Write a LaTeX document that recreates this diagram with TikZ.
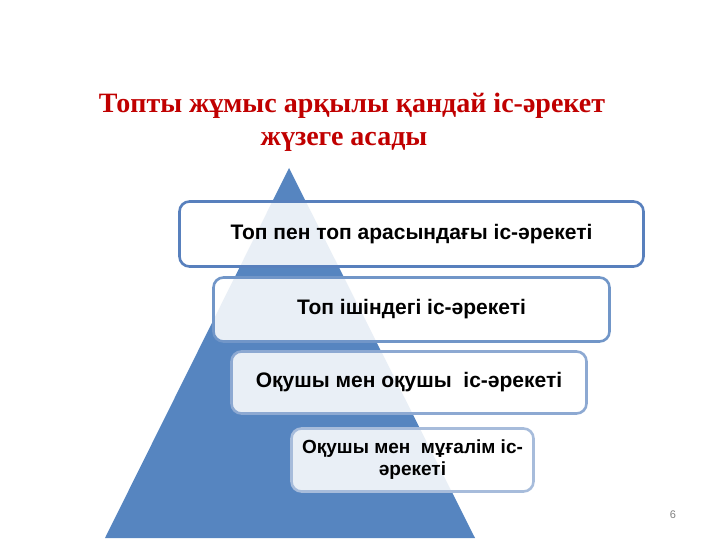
\documentclass[tikz,border=0pt]{standalone}
\usepackage{fontspec}
\setmainfont{Liberation Serif}
\setsansfont{Liberation Sans}
\definecolor{pyrblue}{RGB}{86,133,192}
\definecolor{titlered}{RGB}{192,0,0}
\definecolor{edgeA}{RGB}{88,128,189}
\definecolor{edgeB}{RGB}{113,150,200}
\definecolor{edgeC}{RGB}{141,169,210}
\definecolor{edgeD}{RGB}{167,188,219}
\begin{document}
\begin{tikzpicture}[x=1pt, y=-1pt,
	tierbox/.style={draw=#1, line width=2.6pt, rounded corners=10pt, fill=white, fill opacity=0.87, text opacity=1, align=center, inner sep=0pt, font=\sffamily\bfseries\fontsize{21}{25}\selectfont},
	titletext/.style={text=titlered, font=\rmfamily\bfseries\fontsize{28}{32}\selectfont}]
			\useasboundingbox (0,0) rectangle (720,540);
			\fill[pyrblue] (289,168)--(475,538)--(105,538)--cycle;
			\node[titletext] (title1) at (352,106) {Топты жұмыс арқылы қандай іс-әрекет};
			\node[titletext] (title2) at (344,142) {жүзеге асады};
			\node[tierbox=edgeA, minimum width=464pt, minimum height=65pt] (top) at (411.5,234) {Топ пен топ арасындағы іс-әрекеті};
			\node[tierbox=edgeB, minimum width=396pt, minimum height=64pt] (inner) at (411.5,309.5) {Топ ішіндегі іс-әрекеті};
			\node[tierbox=edgeC, minimum width=355pt, minimum height=62pt] (pupils) at (409,382.5) {Оқушы мен оқушы\ \ іс-әрекеті};
			\node[tierbox=edgeD, minimum width=242pt, minimum height=63pt, font=\sffamily\bfseries\fontsize{19}{22}\selectfont] (teacher) at (412.5,460) {Оқушы мен\ \ мұғалім іс-\\әрекеті};
			\node[text=gray, font=\sffamily\fontsize{11}{12}\selectfont] (pagenum) at (673,515) {6};
		\end{tikzpicture}
\end{document}
